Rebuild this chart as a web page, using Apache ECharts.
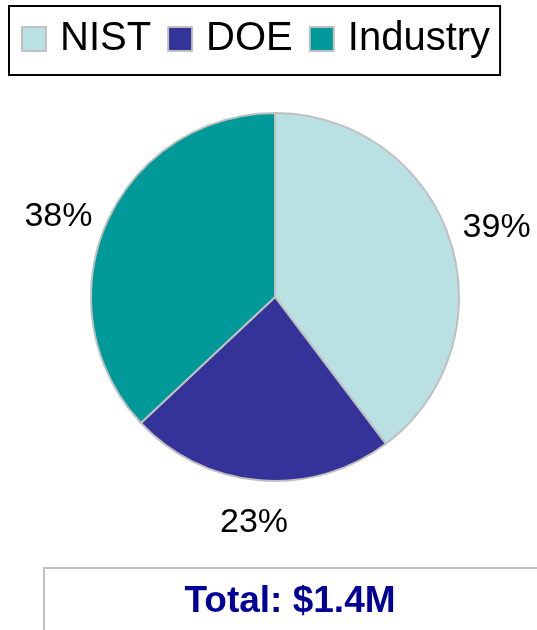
<!DOCTYPE html>
<html>
<head>
<meta charset="utf-8">
<script src="https://cdn.jsdelivr.net/npm/echarts@6/dist/echarts.min.js"></script>
<style>html,body{margin:0;padding:0;background:#fff}#c{width:537px;height:630px}</style>
</head>
<body>
<div id="c"></div>
<script>
const categories = ['NIST', 'DOE', 'Industry'];
// slice sizes as drawn in the picture (shares in %)
const values = [39.7, 23.3, 37.0];
// percentage labels as printed in the picture
const percentLabels = ['39%', '23%', '38%'];
const colors = ['#b9e0e3', '#333399', '#009999'];
const totalText = 'Total: $1.4M';

const labelNudge = {NIST: [-7, -6], DOE: [35, 26], Industry: [6, -1]};

const chart = echarts.init(document.getElementById('c'), null, {renderer: 'canvas'});
chart.setOption({
  animation: false,
  textStyle: {fontFamily: 'Liberation Sans, Arial, sans-serif'},
  legend: {
    data: categories,
    left: 9,
    top: 6,
    orient: 'horizontal',
    borderColor: '#000',
    borderWidth: 2,
    padding: [13, 10, 16, 12],
    itemWidth: 24,
    itemHeight: 24,
    itemGap: 16,
    icon: 'rect',
    itemStyle: {borderColor: '#c0c0c0', borderWidth: 2},
    textStyle: {fontSize: 40, color: '#000', padding: [0, 0, 0, 9], fontFamily: 'Liberation Sans, Arial, sans-serif'}
  },
  series: [{
    type: 'pie',
    center: [275, 297],
    radius: 184,
    startAngle: 90,
    clockwise: true,
    data: categories.map((c, i) => ({name: c, value: values[i], itemStyle: {color: colors[i]}})),
    itemStyle: {borderColor: '#c0c0c0', borderWidth: 2},
    label: {
      show: true,
      position: 'outside',
      formatter: p => percentLabels[p.dataIndex],
      fontSize: 34,
      color: '#000',
      overflow: 'none',
      fontFamily: 'Liberation Sans, Arial, sans-serif'
    },
    labelLine: {show: false, length: 16, length2: 0},
    labelLayout: p => {
      const n = labelNudge[categories[p.dataIndex]];
      return {dx: n[0], dy: n[1]};
    },
    emphasis: {disabled: true}
  }],
  graphic: [{
    type: 'rect',
    left: 43,
    top: 567,
    shape: {width: 520, height: 90},
    style: {fill: '#fff', stroke: '#c0c0c0', lineWidth: 2}
  }, {
    type: 'text',
    x: 290,
    y: 602,
    style: {text: totalText, fontSize: 37, fontWeight: 'bold', fill: '#000099', align: 'center', verticalAlign: 'middle', fontFamily: 'Liberation Sans, Arial, sans-serif'}
  }]
});
</script>
</body>
</html>
